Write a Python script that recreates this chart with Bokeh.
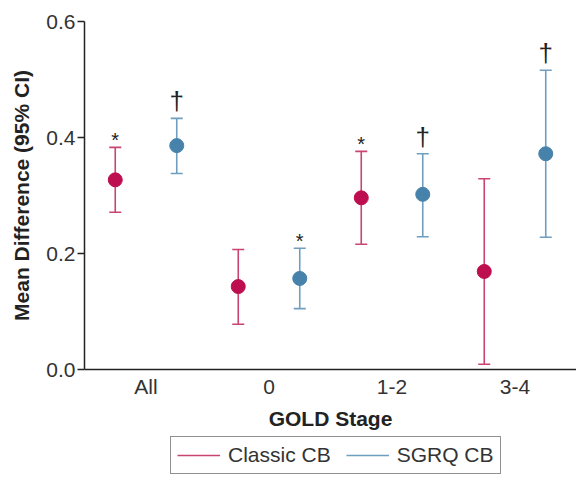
from bokeh.plotting import figure
from bokeh.layouts import column
from bokeh.models import (ColumnDataSource, FactorRange, Range1d, FixedTicker,
                          Legend, LegendItem, NumeralTickFormatter)
from bokeh.transform import dodge
from bokeh.embed import file_html
from bokeh.resources import INLINE
from bokeh.core.properties import value

# ---- data ----
stages = ["All", "0", "1-2", "3-4"]
classic_mean = [0.327, 0.143, 0.296, 0.169]
classic_lower = [0.271, 0.078, 0.216, 0.009]
classic_upper = [0.383, 0.207, 0.376, 0.329]
sgrq_mean = [0.386, 0.157, 0.302, 0.372]
sgrq_lower = [0.338, 0.105, 0.229, 0.228]
sgrq_upper = [0.433, 0.209, 0.372, 0.516]
classic_marks = ["*", "", "*", ""]
sgrq_marks = ["\u2020", "*", "\u2020", "\u2020"]
y_ticks = [0.0, 0.2, 0.4, 0.6]

FONT = "Liberation Sans"
C_CLASSIC = "#BD0F4F"
C_CLASSIC_BAR = "#C94471"
C_SGRQ = "#4682AA"
C_SGRQ_BAR = "#6E9EC0"

x_range = FactorRange(*stages, range_padding=0)
p = figure(x_range=x_range, y_range=Range1d(0, 0.6),
           frame_width=492, frame_height=348,
           min_border_left=84, min_border_right=0, min_border_top=21,
           min_border_bottom=0,
           output_backend="svg", toolbar_location=None, tools="")
p.outline_line_color = None
p.grid.grid_line_color = None
p.background_fill_color = "white"

# small strip below the chart that carries the legend
p_leg = figure(x_range=x_range, y_range=Range1d(1, 2), width=569, height=42,
               min_border=0, x_axis_location=None, y_axis_location=None,
               output_backend="svg", toolbar_location=None, tools="")
p_leg.outline_line_color = None
p_leg.grid.grid_line_color = None
p_leg.grid.visible = False


def series(mean, lower, upper, marks, shift, col_pt, col_bar):
    src = ColumnDataSource(dict(cat=stages, mean=mean, lower=lower, upper=upper))
    xs = dodge("cat", shift, range=x_range)
    p.segment(x0=xs, y0="lower", x1=xs, y1="upper", source=src,
              line_color=col_bar, line_width=1.6)
    p.scatter(x=xs, y="upper", source=src, marker="dash", size=12,
              line_color=col_bar, line_width=1.6)
    p.scatter(x=xs, y="lower", source=src, marker="dash", size=12,
              line_color=col_bar, line_width=1.6)
    p.scatter(x=xs, y="mean", source=src, marker="circle", size=14,
              fill_color=col_pt, line_color=col_pt)
    # annotation marks above the upper CI
    star = ColumnDataSource(dict(
        cat=[c for c, m in zip(stages, marks) if m == "*"],
        upper=[u for u, m in zip(upper, marks) if m == "*"]))
    dag = ColumnDataSource(dict(
        cat=[c for c, m in zip(stages, marks) if m == "\u2020"],
        upper=[u for u, m in zip(upper, marks) if m == "\u2020"]))
    p.text(x=xs, y="upper", text=value("*"), source=star, y_offset=-7,
           text_font=value(FONT), text_font_size="20px", text_color="#222222",
           text_align="center", text_baseline="alphabetic")
    p.text(x=xs, y="upper", text=value("\u2020"), source=dag, y_offset=-17,
           text_font=value(FONT), text_font_size="26px", text_color="#222222",
           text_align="center", text_baseline="alphabetic")
    # same error-bar series in the legend strip (out of its view) for the key
    return p_leg.segment(x0=xs, y0="lower", x1=xs, y1="upper", source=src,
                         line_color=col_bar, line_width=1.6)

seg_c = series(classic_mean, classic_lower, classic_upper, classic_marks, -0.25,
               C_CLASSIC, C_CLASSIC_BAR)
seg_s = series(sgrq_mean, sgrq_lower, sgrq_upper, sgrq_marks, 0.25,
               C_SGRQ, C_SGRQ_BAR)

# y axis
ya = p.yaxis[0]
ya.ticker = FixedTicker(ticks=y_ticks)
ya.formatter = NumeralTickFormatter(format="0.0")
ya.axis_label = "Mean Difference (95% CI)"
ya.axis_label_text_font = FONT
ya.axis_label_text_font_style = "bold"
ya.axis_label_text_font_size = "21px"
ya.axis_label_text_color = "#222222"
ya.axis_label_standoff = 10
ya.major_label_text_font = FONT
ya.major_label_text_font_size = "21px"
ya.major_label_text_color = "#333333"
ya.major_label_standoff = 2
ya.major_tick_out = 7
ya.major_tick_in = 0
ya.minor_tick_out = 0
ya.minor_tick_in = 0
ya.axis_line_color = "#222222"
ya.axis_line_width = 1.5
ya.major_tick_line_color = "#222222"
ya.major_tick_line_width = 1.5

# x axis
xa = p.xaxis[0]
xa.axis_label = "GOLD Stage"
xa.axis_label_text_font = FONT
xa.axis_label_text_font_style = "bold"
xa.axis_label_text_font_size = "21px"
xa.axis_label_text_color = "#222222"
xa.axis_label_standoff = 6
xa.major_label_text_font = FONT
xa.major_label_text_font_size = "21px"
xa.major_label_text_color = "#333333"
xa.major_label_standoff = 5
xa.major_tick_out = 0
xa.major_tick_in = 0
xa.axis_line_color = "#222222"
xa.axis_line_width = 1.5

legend = Legend(items=[LegendItem(label="Classic CB", renderers=[seg_c]),
                       LegendItem(label="SGRQ CB", renderers=[seg_s])],
                orientation="horizontal", location=(86, 0),
                label_text_font=FONT, label_text_font_size="21px",
                label_text_color="#333333",
                glyph_width=43, glyph_height=20, label_height=20,
                label_standoff=8, spacing=15, padding=6, margin=0,
                border_line_color="#222222", border_line_width=1.5)
p_leg.add_layout(legend, "center")

open("out.html", "w").write(file_html(column(p, p_leg), INLINE))
